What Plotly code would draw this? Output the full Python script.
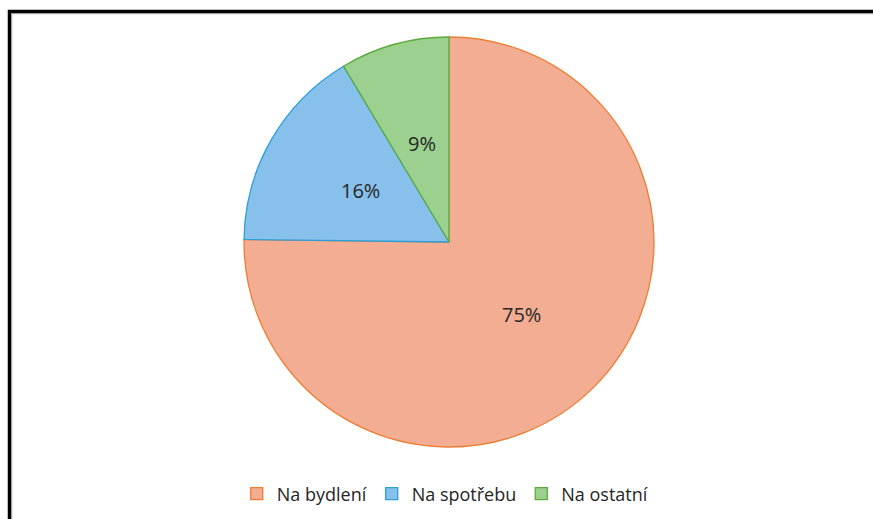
import math
import plotly.graph_objects as go

W, H = 873, 519
labels = ["Na bydlení", "Na spotřebu", "Na ostatní"]
values = [75.2, 16.2, 8.6]
fill_colors = ["#F3AD93", "#88C0EC", "#9BD08F"]
line_colors = ["#ED7D31", "#2A9FD8", "#5BAA3C"]

cx, cy, r = 449, 242, 205

fig = go.Figure(go.Pie(
    labels=labels, values=values, sort=False, direction="clockwise", rotation=0,
    marker=dict(colors=fill_colors, line=dict(color=line_colors, width=1.3)),
    textinfo="none",
    domain=dict(x=[(cx - r) / W, (cx + r) / W], y=[1 - (cy + r) / H, 1 - (cy - r) / H]),
    hoverinfo="label+percent",
))

def px(x):
    return x / W

def py(y):
    return 1 - y / H

# data labels placed at half radius along each slice's mid-angle (Excel-like)
total = sum(values)
annotations = []
cum = 0.0
for v in values:
    mid = (cum + v / 2) / total * 2 * math.pi
    cum += v
    lx = cx + 0.5 * r * math.sin(mid)
    ly = cy - 0.5 * r * math.cos(mid)
    annotations.append(dict(
        x=px(lx), y=py(ly), xref="paper", yref="paper", showarrow=False,
        text=f"{round(v / total * 100)}%",
        font=dict(family="Open Sans", size=20, color="#262626"),
        xanchor="center", yanchor="middle"))

shapes = [
    dict(type="line", xref="paper", yref="paper", x0=px(8), x1=px(W), y0=py(11.5), y1=py(11.5),
         line=dict(color="black", width=3.5)),
    dict(type="line", xref="paper", yref="paper", x0=px(9.5), x1=px(9.5), y0=py(10), y1=py(H),
         line=dict(color="black", width=3.5)),
    dict(type="line", xref="paper", yref="paper", x0=px(11.5), x1=px(W), y0=py(13.7), y1=py(13.7),
         line=dict(color="#9a9a9a", width=1)),
    dict(type="line", xref="paper", yref="paper", x0=px(11.7), x1=px(11.7), y0=py(13.5), y1=py(H),
         line=dict(color="#9a9a9a", width=1)),
]

fig.update_layout(
    width=W, height=H,
    margin=dict(l=0, r=0, t=0, b=0),
    paper_bgcolor="white", plot_bgcolor="white",
    shapes=shapes,
    annotations=annotations,
    showlegend=True,
    legend=dict(orientation="h", x=0.51, xanchor="center", y=py(494), yanchor="middle",
                font=dict(family="Open Sans", size=18, color="#262626"),
                itemwidth=30, traceorder="normal", bgcolor="rgba(0,0,0,0)"),
)

fig.write_html("out.html")
